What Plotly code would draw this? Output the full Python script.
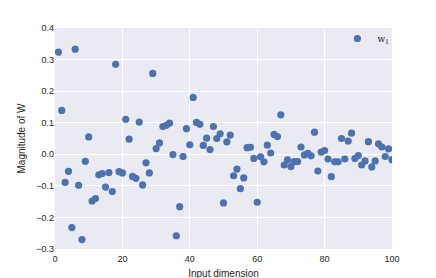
import plotly.graph_objects as go

x_idx = list(range(1, 101))
w1 = [
    0.3235, 0.139, -0.089, -0.054, -0.232, 0.333, -0.098, -0.270, -0.022, 0.055,
    -0.148, -0.140, -0.065, -0.061, -0.104, -0.058, -0.118, 0.285, -0.055, -0.059,
    0.111, 0.048, -0.070, -0.076, 0.102, -0.097, -0.027, -0.059, 0.256, 0.018,
    0.036, 0.088, 0.092, 0.099, -0.001, -0.258, -0.166, -0.007, 0.081, 0.030,
    0.180, 0.101, 0.095, 0.028, 0.051, 0.015, 0.088, 0.050, 0.065, -0.154,
    0.039, 0.061, -0.068, -0.047, -0.109, -0.075, 0.021, 0.022, -0.013, -0.152,
    -0.008, -0.024, 0.029, 0.004, 0.063, 0.056, 0.125, -0.034, -0.018, -0.039,
    -0.023, -0.023, 0.023, -0.002, 0.003, -0.005, 0.070, -0.053, 0.007, 0.012,
    -0.015, -0.071, -0.024, -0.024, 0.050, -0.015, 0.042, 0.067, -0.013, -0.004,
    -0.034, -0.021, 0.040, -0.040, -0.021, 0.033, 0.023, -0.007, 0.017, -0.017,
]
x_ticks = [0, 20, 40, 60, 80, 100]
y_ticks = [-0.3, -0.2, -0.1, 0.0, 0.1, 0.2, 0.3, 0.4]

fig = go.Figure()
fig.add_trace(go.Scatter(
    x=x_idx, y=w1, mode="markers", name="w<sub>1</sub>",
    marker=dict(color="#4C72B0", size=7.2, line=dict(width=0)),
    cliponaxis=True,
))

axis_common = dict(
    showgrid=True, gridcolor="white", gridwidth=1.2,
    zeroline=False, showline=False, ticks="", automargin=False,
    tickfont=dict(family="Liberation Sans, Arial", size=9, color="#262626"),
)
fig.update_layout(
    width=436, height=278,
    margin=dict(l=47, r=52, t=20, b=37),
    paper_bgcolor="white", plot_bgcolor="#EAEAF2",
    font=dict(family="Liberation Sans, Arial", size=9, color="#262626"),
    showlegend=True,
    legend=dict(x=0.838, y=1.018, xanchor="left", yanchor="top",
                bgcolor="rgba(0,0,0,0)", font=dict(family="DejaVu Serif", size=9, color="#262626")),
    xaxis=dict(range=[0, 100], tickvals=x_ticks, ticktext=[str(v) for v in x_ticks],
               ticklabelstandoff=3,
               title=dict(text="Input dimension", standoff=6, font=dict(size=10)), **axis_common),
    yaxis=dict(range=[-0.3, 0.4], tickvals=y_ticks, tickformat=".1f",
               title=dict(text="Magnitude of W", standoff=8, font=dict(size=10)), **axis_common),
)
fig.write_html("out.html")
